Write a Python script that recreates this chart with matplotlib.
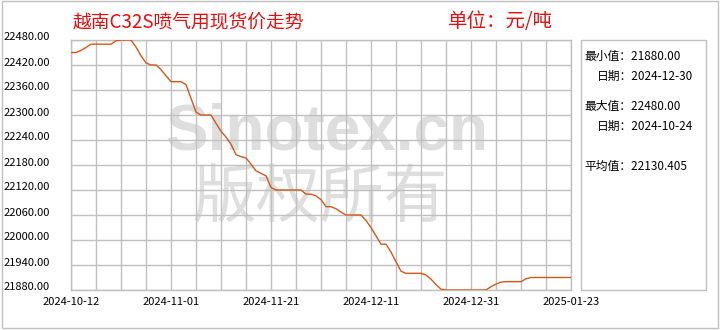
import matplotlib
matplotlib.use("Agg")
import matplotlib.pyplot as plt
import matplotlib.transforms as mtransforms
from matplotlib.patches import Rectangle
from matplotlib.ticker import MultipleLocator, FixedLocator, NullFormatter

plt.rcParams['font.family'] = ['Noto Sans CJK SC', 'DejaVu Sans']

title = "越南C32S喷气用现货价走势"
unit = "单位：元/吨"

# daily price readings (index 0 = 2024-10-12)
prices = [
    22450, 22450, 22455, 22462, 22470, 22470, 22470, 22470, 22470, 22478,
    22480, 22480, 22480, 22463, 22442, 22425, 22420, 22420, 22409, 22394,
    22380, 22380, 22380, 22373, 22340, 22307, 22300, 22300, 22300, 22280,
    22261, 22247, 22230, 22205, 22200, 22197, 22182, 22166, 22160, 22154,
    22126, 22120, 22120, 22120, 22120, 22120, 22120, 22110, 22110, 22106,
    22097, 22080, 22080, 22075, 22067, 22060, 22060, 22060, 22060, 22047,
    22030, 22010, 21990, 21990, 21971, 21948, 21925, 21920, 21920, 21920,
    21920, 21916, 21906, 21893, 21882, 21880, 21880, 21880, 21880, 21880,
    21880, 21880, 21880, 21880, 21888, 21894, 21899, 21900, 21900, 21900,
    21900, 21907, 21910, 21910, 21910, 21910, 21910, 21910, 21910, 21910,
    21910,
]
days = list(range(len(prices)))

x_tick_pos = [0, 20, 40, 60, 80, 100]
x_tick_labels = ["2024-10-12", "2024-11-01", "2024-11-21", "2024-12-11",
                 "2024-12-31", "2025-01-23"]
y_ticks = [21880, 21940, 22000, 22060, 22120, 22180, 22240, 22300, 22360, 22420, 22480]

stats_lines = [
    ("最小值：21880.00", 0),
    ("日期：2024-12-30", 1),
    ("最大值：22480.00", 0),
    ("日期：2024-10-24", 1),
    ("平均值：22130.405", 0),
]

W, H = 720, 330
fig = plt.figure(figsize=(W / 100, H / 100), dpi=100)
fig.patch.set_facecolor('white')

def px(x, y):
    return x / W, 1 - y / H

# outer border
fig.patches.append(Rectangle(px(2, 328), 716 / W, 327 / H, transform=fig.transFigure,
                             fill=False, edgecolor='#c0c0c0', linewidth=1))
# stats box
fig.patches.append(Rectangle(px(581, 290), 125 / W, 250 / H, transform=fig.transFigure,
                             fill=False, edgecolor='#c0c0c0', linewidth=1))

ax = fig.add_axes([71 / W, 40 / H, 500 / W, 250 / H])
ax.set_xlim(0, 100)
ax.set_ylim(21880, 22480)

ax.xaxis.set_major_locator(FixedLocator(x_tick_pos))
ax.set_xticklabels(x_tick_labels)
ax.xaxis.set_minor_locator(MultipleLocator(5))
ax.xaxis.set_minor_formatter(NullFormatter())
ax.set_yticks(y_ticks)
ax.set_yticklabels([f"{v:.2f}" for v in y_ticks])

ax.grid(True, which='both', color='#c0c0c0', linewidth=1, zorder=0.8)
ax.set_axisbelow(True)
for s in ax.spines.values():
    s.set_color('#c0c0c0')
    s.set_linewidth(1)
ax.tick_params(which='both', length=0)
ax.tick_params(axis='x', pad=5, labelsize=8, colors='black')
ax.tick_params(axis='y', pad=15, labelsize=8, colors='black')

off = mtransforms.ScaledTranslation(0, 3.5 / 100, fig.dpi_scale_trans)
for lbl in ax.get_yticklabels():
    lbl.set_transform(lbl.get_transform() + off)

# watermark (behind grid)
ax.text((327 - 71) / 500, 1 - (133 - 40) / 250, "Sinotex.cn", transform=ax.transAxes,
        ha='center', va='center', fontsize=46, fontweight='bold', color='#dedede',
        family=['Liberation Sans', 'DejaVu Sans'], zorder=0.3)
ax.text((320 - 71) / 500, 1 - (199 - 40) / 250, "版权所有", transform=ax.transAxes,
        ha='center', va='center', fontsize=46, color='#dedede', zorder=0.3)

ax.plot(days, prices, color='#d0581c', linewidth=1, zorder=3)

# titles
fig.text(*px(73, 22), title, color='#e01010', fontsize=13.5, ha='left', va='center')
fig.text(*px(448, 22), unit, color='#e01010', fontsize=14, ha='left', va='center')

# stats
ys = [56, 76, 106, 126, 166]
for (txt, indent), y in zip(stats_lines, ys):
    fig.text(*px(584 + 13 * indent, y), txt, fontsize=8.5, ha='left', va='center', color='black')

fig.savefig("out.png", dpi=100)
